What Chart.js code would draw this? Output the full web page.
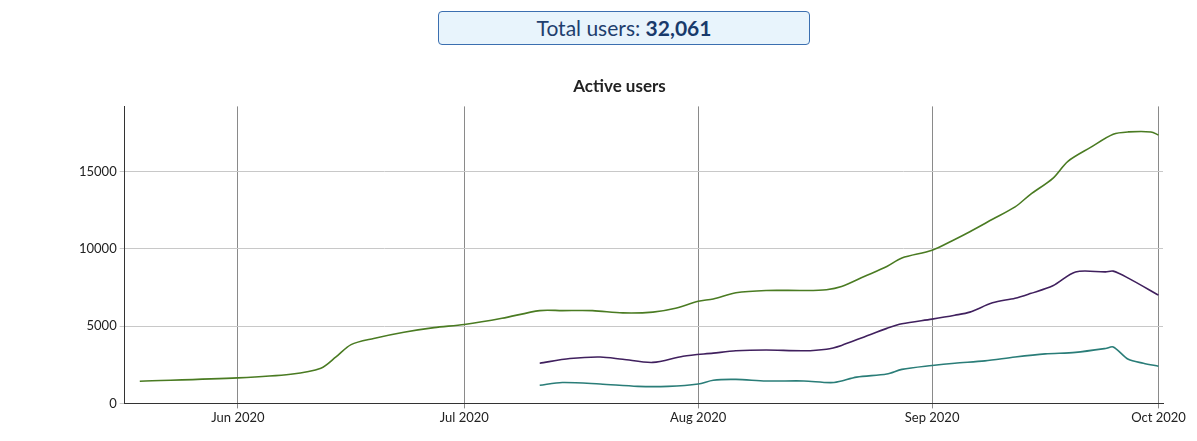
<!DOCTYPE html>
<html><head><meta charset="utf-8">
<script src="https://cdn.jsdelivr.net/npm/chart.js@4/dist/chart.umd.min.js"></script>
<style>
body{margin:0;background:#fff;font-family:Lato,sans-serif}
#hdr{position:absolute;left:438px;top:11px;width:370px;height:32px;border:1px solid #3b6fb0;border-radius:4px;background:#e8f4fc;text-align:center;font-size:21px;line-height:32px;color:#1f3f6e}
#hdr b{color:#183a6b}
#wrap{position:absolute;left:0;top:62px;width:1197px;height:379px}
</style></head><body>
<div id="hdr">Total users: <b>32,061</b></div>
<div id="wrap"><canvas id="c"></canvas></div>
<script>
var tickDates = ['2020-06-01','2020-07-01','2020-08-01','2020-09-01','2020-10-01'];
var tickLabels = ['Jun 2020','Jul 2020','Aug 2020','Sep 2020','Oct 2020'];

var greenDates = ['2020-05-19','2020-06-01','2020-06-08','2020-06-12','2020-06-14','2020-06-16','2020-06-19','2020-06-23','2020-06-27','2020-07-01','2020-07-06','2020-07-11','2020-07-14','2020-07-18','2020-07-22','2020-07-26','2020-07-29','2020-08-01','2020-08-03','2020-08-06','2020-08-10','2020-08-15','2020-08-18','2020-08-20','2020-08-23','2020-08-26','2020-08-28','2020-09-01','2020-09-04','2020-09-06','2020-09-09','2020-09-12','2020-09-14','2020-09-17','2020-09-19','2020-09-22','2020-09-25','2020-09-27','2020-09-30','2020-10-01'];
var greenValues = [1430,1650,1880,2270,3000,3800,4200,4600,4900,5100,5500,6000,6000,6000,5850,5900,6150,6600,6750,7150,7300,7300,7350,7550,8200,8850,9400,9900,10600,11100,11900,12700,13500,14550,15650,16550,17400,17550,17550,17350];

var purpleDates = ['2020-07-11','2020-07-15','2020-07-19','2020-07-22','2020-07-26','2020-07-30','2020-08-03','2020-08-06','2020-08-10','2020-08-15','2020-08-18','2020-08-20','2020-08-23','2020-08-26','2020-08-28','2020-09-01','2020-09-04','2020-09-06','2020-09-09','2020-09-12','2020-09-14','2020-09-17','2020-09-20','2020-09-24','2020-09-25','2020-09-27','2020-10-01'];
var purpleValues = [2600,2900,3000,2850,2650,3050,3250,3400,3450,3400,3500,3750,4300,4850,5150,5450,5700,5900,6500,6800,7100,7600,8500,8500,8550,8100,7000];

var tealDates = ['2020-07-11','2020-07-14','2020-07-19','2020-07-24','2020-07-28','2020-08-01','2020-08-03','2020-08-06','2020-08-10','2020-08-15','2020-08-19','2020-08-22','2020-08-26','2020-08-28','2020-09-01','2020-09-04','2020-09-08','2020-09-12','2020-09-16','2020-09-20','2020-09-24','2020-09-25','2020-09-27','2020-09-29','2020-10-01'];
var tealValues = [1170,1350,1250,1100,1100,1250,1500,1550,1450,1450,1350,1700,1900,2200,2450,2600,2750,3000,3200,3300,3550,3650,2850,2600,2400];

var JUN1 = Date.UTC(2020,5,1);
function dayOf(s){ var p=s.split('-'); return (Date.UTC(+p[0],p[1]-1,+p[2])-JUN1)/86400000; }
function pts(d,v){ return d.map(function(s,i){ return {x:dayOf(s), y:v[i]}; }); }
var tickDays = tickDates.map(dayOf);

function ds(d,v,col){ return {data:pts(d,v),borderColor:col,borderWidth:1.6,pointRadius:0,tension:0.3,fill:false}; }

new Chart(document.getElementById('c'),{
  type:'line',
  data:{datasets:[ds(greenDates,greenValues,'#4a7b22'),ds(purpleDates,purpleValues,'#40205e'),ds(tealDates,tealValues,'#2a7d78')]},
  options:{
    responsive:true,maintainAspectRatio:false,animation:false,
    layout:{padding:{left:76,right:34,top:0,bottom:13}},
    plugins:{legend:{display:false},tooltip:{enabled:false},
      title:{display:true,text:'Active users',color:'#222',font:{family:'Lato',size:17,weight:'bold'},padding:{top:14,bottom:10}}},
    scales:{
      x:{type:'linear',min:dayOf('2020-05-17'),max:dayOf('2020-10-01')+0.6,
        afterBuildTicks:function(a){ a.ticks=tickDays.map(function(v){return {value:v};}); },
        ticks:{color:'#222',font:{family:'Lato',size:13},maxRotation:0,padding:2,
          callback:function(v){ var i=tickDays.indexOf(v); return i<0?'':tickLabels[i]; }},
        grid:{color:'#8a8a8a',lineWidth:1,drawTicks:true,tickLength:5},
        border:{color:'#333'}},
      y:{min:0,max:19200,
        afterBuildTicks:function(a){ a.ticks=[0,5000,10000,15000].map(function(v){return {value:v};}); },
        ticks:{color:'#222',font:{family:'Lato',size:13},callback:function(v){ return String(v); }},
        grid:{color:'#c8c8c8',tickLength:5},
        border:{color:'#333'}}
    }
  }
});
</script>
</body></html>
